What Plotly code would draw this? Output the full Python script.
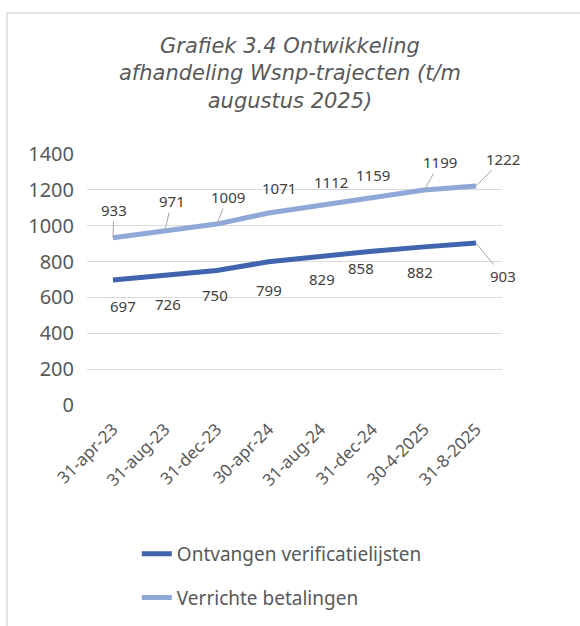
import plotly.graph_objects as go

categories = ["31-apr-23", "31-aug-23", "31-dec-23", "30-apr-24", "31-aug-24", "31-dec-24", "30-4-2025", "31-8-2025"]
ontvangen = [697, 726, 750, 799, 829, 858, 882, 903]
verrichte = [933, 971, 1009, 1071, 1112, 1159, 1199, 1222]
series_names = ["Ontvangen verificatielijsten", "Verrichte betalingen"]
y_ticks = [0, 200, 400, 600, 800, 1000, 1200, 1400]

# label offsets (pixels) and whether a leader line is drawn
off_verr = [(1, -28, True), (7, -30, True), (11, -27, True), (10, -25, False), (11, -24, False), (1, -22, False), (16, -28, True), (27, -27, True)]
off_ontv = [(10, 26, False), (3, 29, False), (-2, 24, False), (0, 28, False), (2, 23, False), (-11, 17, False), (-4, 25, False), (27, 33, True)]

C_DARK = "#4064AE"
C_LIGHT = "#8FA8D8"
TXT = "#595959"

fig = go.Figure()
x_idx = list(range(len(categories)))
fig.add_trace(go.Scatter(x=x_idx, y=ontvangen, mode="lines", name=series_names[0],
                         line=dict(color=C_DARK, width=5), legendgroup="a"))
fig.add_trace(go.Scatter(x=x_idx, y=verrichte, mode="lines", name=series_names[1],
                         line=dict(color=C_LIGHT, width=5), legendgroup="b"))

annotations = []
for vals, offs in ((verrichte, off_verr), (ontvangen, off_ontv)):
    for i, (v, (dx, dy, lead)) in enumerate(zip(vals, offs)):
        annotations.append(dict(
            x=i, y=v, xref="x", yref="y", text=str(v), showarrow=True,
            ax=dx, ay=dy, arrowhead=0, arrowwidth=1,
            arrowcolor="#A6A6A6" if lead else "rgba(0,0,0,0)",
            font=dict(family="Noto Sans", size=15, color="#404040")))

fig.update_layout(
    width=580, height=626,
    margin=dict(l=87, r=78, t=154, b=221, autoexpand=False),
    paper_bgcolor="white", plot_bgcolor="white",
    title=dict(text="Grafiek 3.4 Ontwikkeling<br>afhandeling Wsnp-trajecten (t/m<br>augustus 2025)",
               x=0.5, xref="container", xanchor="center", y=1 - 53 / 626, yanchor="middle",
               font=dict(family="DejaVu Sans", size=21, color=TXT, style="italic")),
    xaxis=dict(tickmode="array", tickvals=x_idx, ticktext=categories, range=[-0.5, len(categories) - 0.5],
               tickangle=-45, showgrid=False, zeroline=False, showline=False, ticks="",
               ticklabelstandoff=10, automargin=False,
               tickfont=dict(family="Noto Sans", size=17, color=TXT)),
    yaxis=dict(range=[0, 1400], tickvals=y_ticks, showgrid=True, gridcolor="#D9D9D9", gridwidth=1,
               zeroline=False, showline=False, ticks="", ticklabelstandoff=12, automargin=False,
               tickfont=dict(family="Noto Sans", size=20, color=TXT)),
    legend=dict(orientation="v", x=0.12, xanchor="left", y=-0.518, yanchor="top",
                tracegroupgap=16, font=dict(family="Noto Sans", size=19, color=TXT),
                bgcolor="rgba(0,0,0,0)"),
    annotations=annotations,
    shapes=[
        dict(type="line", xref="paper", yref="paper", x0=-80 / 415, x1=-80 / 415, y0=(405 - 13) / 251, y1=(405 - 640) / 251,
             line=dict(color="#D9D9D9", width=1.5)),
        dict(type="line", xref="paper", yref="paper", x0=-80 / 415, x1=(600 - 87) / 415, y0=(405 - 13) / 251, y1=(405 - 13) / 251,
             line=dict(color="#D9D9D9", width=1.5)),
    ],
)

fig.write_html("out.html", config={"displayModeBar": False},
               post_script="document.body.style.margin='0';")
